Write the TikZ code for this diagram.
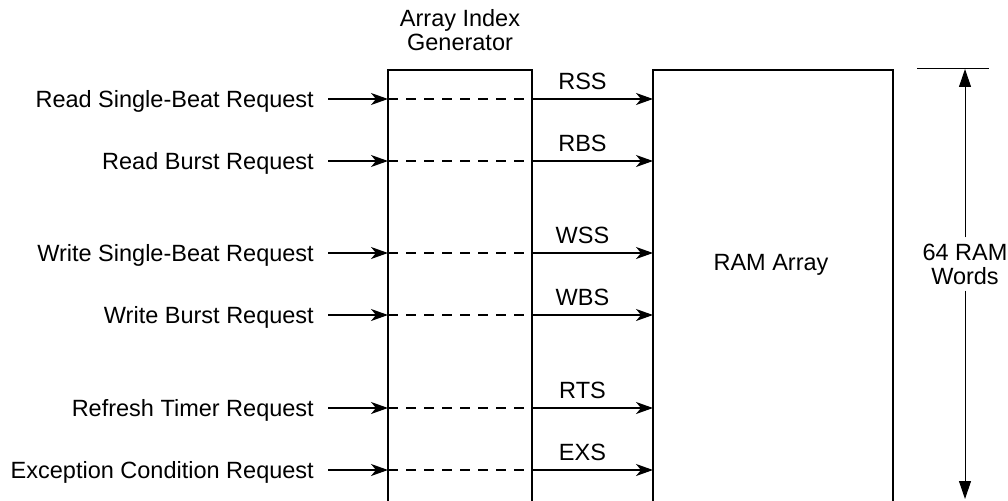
\documentclass[tikz,border=0pt]{standalone}
\usepackage{fontspec}
\setmainfont{Liberation Sans}
\usetikzlibrary{arrows.meta, positioning}

\begin{document}
\begin{tikzpicture}[x=1pt, y=-1pt,
    box/.style={draw, line width=2pt, outer sep=0pt, minimum height=460pt, anchor=north west},
    lbl/.style={font=\fontsize{23.5}{25}\selectfont, inner sep=2pt, text height=16pt, text depth=0pt},
    tag/.style={lbl, above=7pt, xshift=-10pt},
    note/.style={font=\fontsize{23.5}{24}\selectfont, inner sep=2pt, align=center},
    sig/.style={line width=1.3pt, -{Stealth[length=17pt, width=12pt, inset=5pt]}},
    gap/.style={line width=1.2pt, dash pattern=on 10pt off 8pt},
    dim/.style={line width=1pt, -{Triangle[length=18pt, width=12pt]}}]
        \useasboundingbox (0,0) rectangle (1008,500);
        \clip (0,0) rectangle (1008,500);

        \node[box, minimum width=144pt] (gen) at (388,70) {};
        \node[box, minimum width=240pt] (ram) at (653,70) {};
        \node[note, above=17pt of gen.north] (gentxt) {Array Index\\Generator};
        \node[lbl] (ramtxt) at (771,262) {RAM Array};

        \node[lbl, anchor=east] (rsb) at (316,99)  {Read Single-Beat Request};
        \node[lbl, anchor=east] (rbr) at (316,161) {Read Burst Request};
        \node[lbl, anchor=east] (wsb) at (316,253) {Write Single-Beat Request};
        \node[lbl, anchor=east] (wbr) at (316,315) {Write Burst Request};
        \node[lbl, anchor=east] (rtr) at (316,408) {Refresh Timer Request};
        \node[lbl, anchor=east] (ecr) at (316,470) {Exception Condition Request};

        \path[sig]
        (rsb) edge [shorten <=12pt] (rsb -| gen.west)
        (rbr) edge [shorten <=12pt] (rbr -| gen.west)
        (wsb) edge [shorten <=12pt] (wsb -| gen.west)
        (wbr) edge [shorten <=12pt] (wbr -| gen.west)
        (rtr) edge [shorten <=12pt] (rtr -| gen.west)
        (ecr) edge [shorten <=12pt] (ecr -| gen.west);

        \path[gap]
        (rsb -| gen.west) edge (rsb -| gen.east)
        (rbr -| gen.west) edge (rbr -| gen.east)
        (wsb -| gen.west) edge (wsb -| gen.east)
        (wbr -| gen.west) edge (wbr -| gen.east)
        (rtr -| gen.west) edge (rtr -| gen.east)
        (ecr -| gen.west) edge (ecr -| gen.east);

        \path[sig]
        (rsb -| gen.east) edge node[tag] {RSS} (rsb -| ram.west)
        (rbr -| gen.east) edge node[tag] {RBS} (rbr -| ram.west)
        (wsb -| gen.east) edge node[tag] {WSS} (wsb -| ram.west)
        (wbr -| gen.east) edge node[tag] {WBS} (wbr -| ram.west)
        (rtr -| gen.east) edge node[tag] {RTS} (rtr -| ram.west)
        (ecr -| gen.east) edge node[tag] {EXS} (ecr -| ram.west);

        % dimension on the right
        \coordinate (dtop) at (965,69);
        \coordinate (dbot) at (965,499);
        \coordinate (tl) at (917,69);
        \coordinate (tr) at (989,69);
        \draw[line width=1pt] (tl) -- (tr);
        \node[note, fill=white, inner sep=6pt] (words) at (965,264) {64 RAM\\Words};
        \draw[dim] (words) -- (dtop);
        \draw[dim] (words) -- (dbot);
    \end{tikzpicture}
\end{document}
